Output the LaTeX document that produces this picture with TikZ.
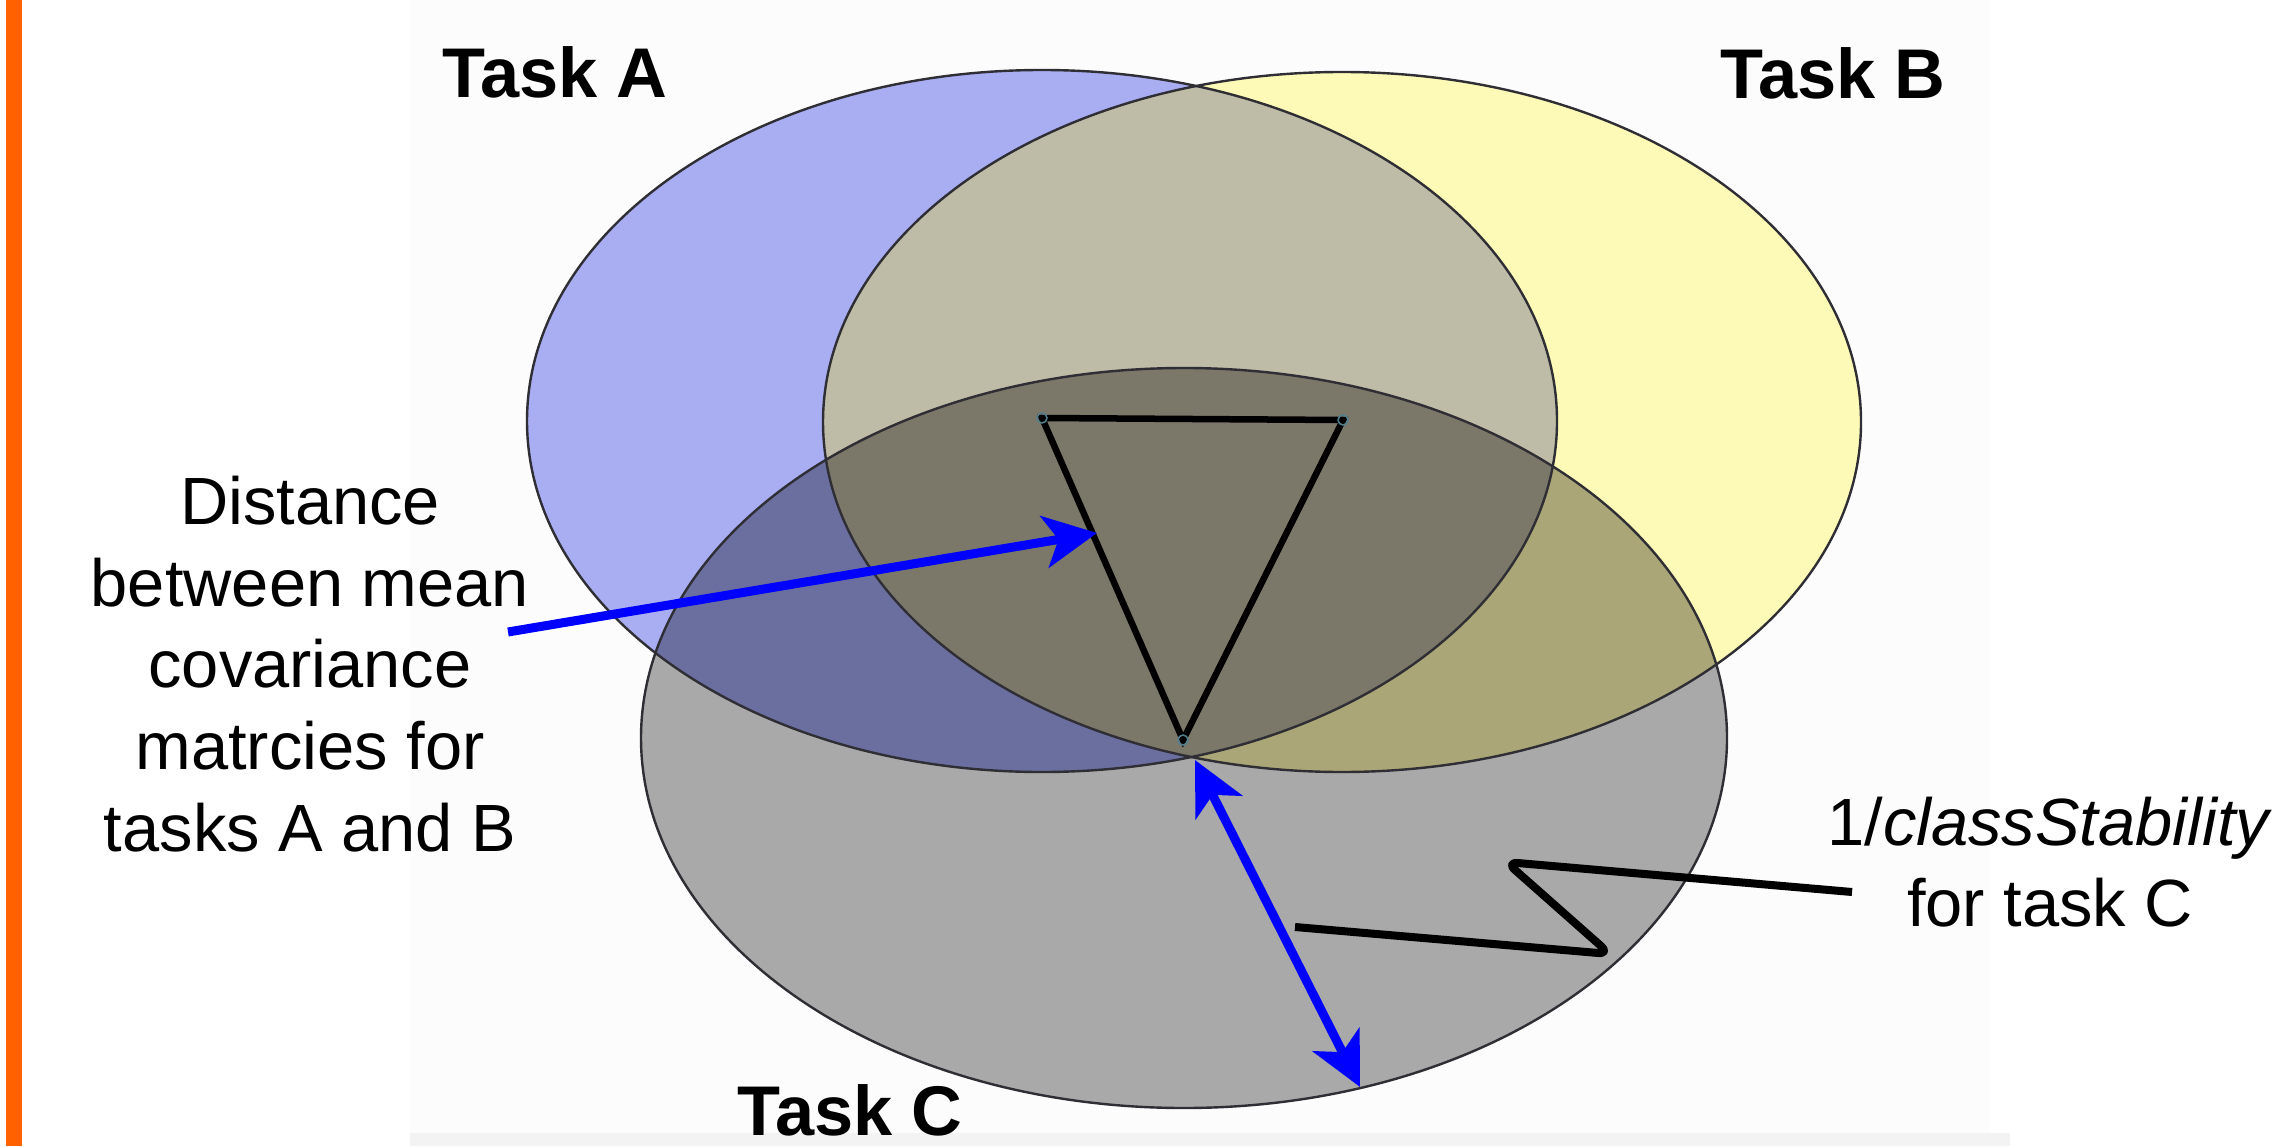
\documentclass[tikz,border=0pt]{standalone}
\usepackage{fontspec}
\setmainfont{Liberation Sans}
\usetikzlibrary{arrows.meta}
\definecolor{orangebar}{HTML}{FF6100}
\definecolor{panelcol}{HTML}{FCFCFC}
\definecolor{bandcol}{HTML}{F3F3F3}
\definecolor{colA}{HTML}{A9AEF3}
\definecolor{colB}{HTML}{FDF9B7}
\definecolor{colC}{HTML}{A9A9A9}
\definecolor{colAB}{HTML}{BEBCA6}
\definecolor{colAC}{HTML}{6B6F9F}
\definecolor{colBC}{HTML}{ABA677}
\definecolor{colABC}{HTML}{7B786A}
\definecolor{edgecol}{HTML}{2E2E34}
\definecolor{arrowblue}{HTML}{0000FF}
\definecolor{vertexcol}{HTML}{4F8090}
\begin{document}
\begin{tikzpicture}[x=0.01cm,y=-0.01cm,
  tasklabel/.style={font=\fontsize{20}{24}\selectfont\bfseries, inner sep=0pt, anchor=base},
  note/.style={font=\fontsize{19}{23.2}\selectfont, align=center, inner sep=0pt},
  setedge/.style={draw=edgecol, line width=0.024cm},
  bluearrow/.style={draw=arrowblue, line width=0.09cm},
  bluetip/.tip={Stealth[length=0.53cm,width=0.52cm,inset=0.14cm]},
  trianglestroke/.style={draw=black, line width=0.065cm},
  vertexdot/.style={circle, draw=vertexcol, line width=0.015cm, minimum size=0.1cm, inner sep=0pt},
  zigstroke/.style={draw=black, line width=0.08cm, rounded corners=0.12cm, line join=round}]
\useasboundingbox (0,0) rectangle (2283,1146);
\fill[white] (0,0) rectangle (2283,1146);
\fill[panelcol] (410,0) rectangle (1990,1133);
\fill[bandcol] (410,1133) rectangle (2010,1146);
\fill[orangebar] (6,0) rectangle (22,1146);
% base fills
\fill[colC] (1184,738) ellipse [x radius=543, y radius=370];
\fill[colA] (1042,421) ellipse [x radius=515, y radius=351];
\fill[colB] (1342,422) ellipse [x radius=519, y radius=350];
% pairwise overlaps
\begin{scope}
  \clip (1042,421) ellipse [x radius=515, y radius=351];
  \fill[colAB] (1342,422) ellipse [x radius=519, y radius=350];
  \fill[colAC] (1184,738) ellipse [x radius=543, y radius=370];
\end{scope}
\begin{scope}
  \clip (1342,422) ellipse [x radius=519, y radius=350];
  \fill[colBC] (1184,738) ellipse [x radius=543, y radius=370];
\end{scope}
\begin{scope}
  \clip (1042,421) ellipse [x radius=515, y radius=351];
  \clip (1342,422) ellipse [x radius=519, y radius=350];
  \fill[colABC] (1184,738) ellipse [x radius=543, y radius=370];
\end{scope}
% outlines
\draw[setedge] (1042,421) ellipse [x radius=515, y radius=351];
\draw[setedge] (1342,422) ellipse [x radius=519, y radius=350];
\draw[setedge] (1184,738) ellipse [x radius=543, y radius=370];
% triangle
\coordinate (t1) at (1042,418);
\coordinate (t2) at (1343,420);
\coordinate (t3) at (1183,740);
\draw[trianglestroke] (t1) -- (t2) -- (t3) -- cycle;
\node[vertexdot] (d1) at (t1) {};
\node[vertexdot] (d2) at (t2) {};
\node[vertexdot] (d3) at (t3) {};
% labels
\node[tasklabel] (taskA) at (555,98) {Task A};
\node[tasklabel] (taskB) at (1833,99) {Task B};
\node[tasklabel] (taskC) at (850,1135) {Task C};
\node[note] (distnote) at (310,664) {Distance\\between mean\\covariance\\matrcies for\\tasks A and B};
\node[note] (stabnote) at (2050,862) {1/\textit{classStability}\\for task C};
% connectors
\coordinate (distTail) at (508,632);
\coordinate (distTip) at (1097,533);
\draw[bluearrow, -{bluetip}] (distTail) -- (distTip);
\coordinate (spreadTop) at (1195,760);
\coordinate (spreadBottom) at (1360,1087);
\draw[bluearrow, {bluetip}-{bluetip}] (spreadTop) -- (spreadBottom);
\coordinate (zigStart) at (1295,927);
\coordinate (zigLow) at (1610,954);
\coordinate (zigHigh) at (1506,862);
\coordinate (zigEnd) at (1852,892);
\draw[zigstroke] (zigStart) -- (zigLow) -- (zigHigh) -- (zigEnd);
\end{tikzpicture}
\end{document}
